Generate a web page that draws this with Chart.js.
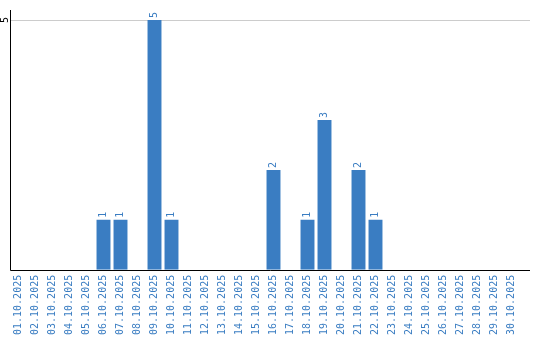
<!DOCTYPE html>
<html>
<head>
    <script src="https://cdn.jsdelivr.net/npm/chart.js@4/dist/chart.umd.min.js"></script>
    <style>
        body { margin: 0; background: #fff; }
        #wrap { width: 540px; height: 340px; }
    </style>
</head>
<body>
<div id="wrap">
    <canvas id="myBarChart" width="540" height="340"></canvas>
</div>

<script>
    var days = ['01.10.2025', '02.10.2025', '03.10.2025', '04.10.2025', '05.10.2025',
        '06.10.2025', '07.10.2025', '08.10.2025', '09.10.2025', '10.10.2025',
        '11.10.2025', '12.10.2025', '13.10.2025', '14.10.2025', '15.10.2025',
        '16.10.2025', '17.10.2025', '18.10.2025', '19.10.2025', '20.10.2025',
        '21.10.2025', '22.10.2025', '23.10.2025', '24.10.2025', '25.10.2025',
        '26.10.2025', '27.10.2025', '28.10.2025', '29.10.2025', '30.10.2025'];
    var counts = [0, 0, 0, 0, 0, 1, 1, 0, 5, 1, 0, 0, 0, 0, 0, 2, 0, 1, 3, 0, 2, 1, 0, 0, 0, 0, 0, 0, 0, 0];
    var yTicks = [5];

    var blue = '#3a7dc2';
    var monoFont = '"DejaVu Sans Mono", "Liberation Mono", monospace';

    // grid line + x axis line run a bit past the last category, so they are drawn here
    var linesPlugin = {
        id: 'lines',
        beforeDatasetsDraw: function (chart) {
            var ctx = chart.ctx;
            var area = chart.chartArea;
            var y = chart.scales.y;
            ctx.save();
            ctx.lineWidth = 1;
            ctx.strokeStyle = '#cccccc';
            yTicks.forEach(function (t) {
                var py = Math.round(y.getPixelForValue(t)) + 0.5;
                ctx.beginPath();
                ctx.moveTo(area.left, py);
                ctx.lineTo(area.right + 10, py);
                ctx.stroke();
            });
            ctx.restore();
        },
        afterDraw: function (chart) {
            var ctx = chart.ctx;
            var area = chart.chartArea;
            var y = chart.scales.y;
            var meta = chart.getDatasetMeta(0);
            ctx.save();
            // axes
            ctx.lineWidth = 1;
            ctx.strokeStyle = '#000';
            var by = Math.round(y.getPixelForValue(0)) + 0.5;
            var lx = Math.round(area.left) + 0.5;
            ctx.beginPath();
            ctx.moveTo(lx, Math.round(area.top) - 10);
            ctx.lineTo(lx, by);
            ctx.lineTo(area.right + 10, by);
            ctx.stroke();
            // value labels
            ctx.font = '10px ' + monoFont;
            ctx.fillStyle = blue;
            ctx.textAlign = 'left';
            ctx.textBaseline = 'middle';
            meta.data.forEach(function (bar, i) {
                if (!counts[i]) return;
                ctx.save();
                ctx.translate(bar.x, bar.y - 2);
                ctx.rotate(-Math.PI / 2);
                ctx.fillText(String(counts[i]), 0, 0);
                ctx.restore();
            });
            // rotated y tick
            ctx.fillStyle = '#000';
            ctx.textAlign = 'center';
            yTicks.forEach(function (t) {
                ctx.save();
                ctx.translate(area.left - 5, y.getPixelForValue(t));
                ctx.rotate(-Math.PI / 2);
                ctx.fillText(String(t), 0, 0);
                ctx.restore();
            });
            ctx.restore();
        }
    };

    var ctx = document.getElementById('myBarChart');
    new Chart(ctx, {
        type: 'bar',
        data: {
            labels: days,
            datasets: [{
                data: counts,
                backgroundColor: blue,
                barPercentage: 0.82,
                categoryPercentage: 1
            }]
        },
        options: {
            responsive: false,
            animation: false,
            layout: { padding: { left: 10, top: 20, right: 20 } },
            plugins: { legend: { display: false }, tooltip: { enabled: false } },
            scales: {
                x: {
                    grid: { display: false, drawTicks: false },
                    border: { display: false },
                    ticks: {
                        color: blue,
                        font: { family: monoFont, size: 10 },
                        minRotation: 90,
                        maxRotation: 90,
                        autoSkip: false,
                        padding: 5
                    }
                },
                y: {
                    min: 0,
                    max: 5,
                    ticks: { display: false, stepSize: 5 },
                    grid: { display: false, drawTicks: false },
                    border: { display: false }
                }
            }
        },
        plugins: [linesPlugin]
    });
</script>
</body>
</html>
